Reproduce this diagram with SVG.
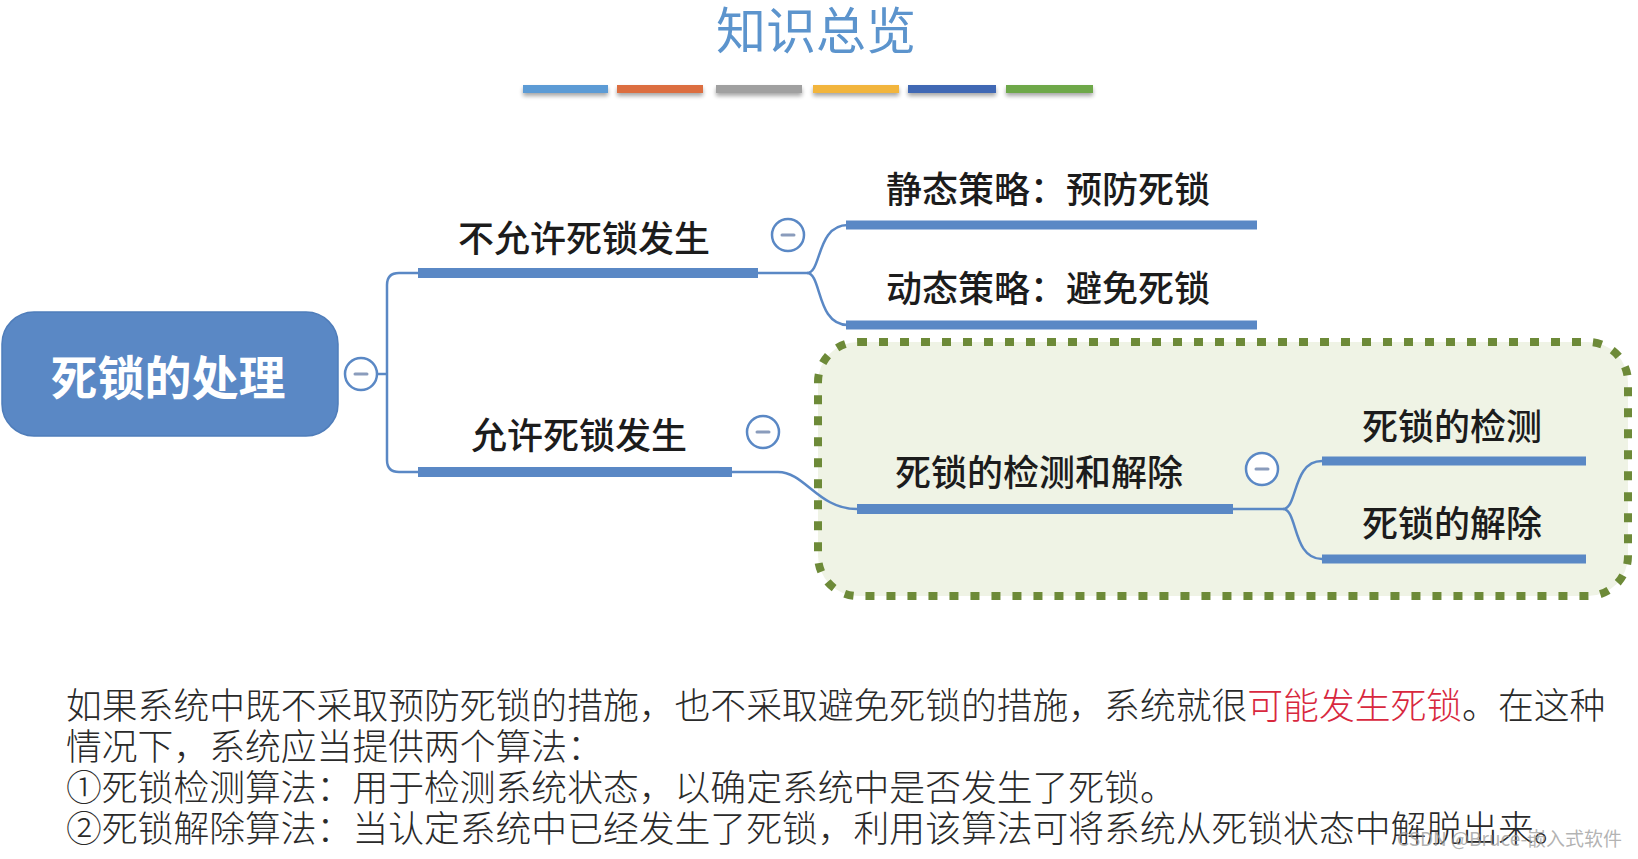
<svg xmlns="http://www.w3.org/2000/svg" width="1638" height="859" viewBox="0 0 1638 859">
  <defs>
    <filter id="shadow" x="-10%" y="-100%" width="120%" height="400%">
      <feGaussianBlur in="SourceAlpha" stdDeviation="2"/>
      <feOffset dy="3" result="b"/>
      <feComponentTransfer><feFuncA type="linear" slope="0.35"/></feComponentTransfer>
      <feMerge><feMergeNode/><feMergeNode in="SourceGraphic"/></feMerge>
    </filter>
  </defs>
  <style>
    .lbl { font-family: "Noto Sans CJK SC", "Noto Sans", sans-serif; font-size: 36px; font-weight: 500; fill: #1c1c1c; }
    .bar { stroke: #5a88c5; stroke-linecap: butt; fill: none; }
    .b1 { stroke-width: 10; }
    .b2 { stroke-width: 9; }
    .conn { stroke: #5a88c5; stroke-width: 2.5; fill: none; }
    .tog circle { fill: #ffffff; stroke: #5a88c5; stroke-width: 2.5; }
    .tog line { stroke: #8a9cbc; stroke-width: 3; stroke-linecap: round; }
    .para { font-family: "Noto Sans CJK SC", "Noto Sans", sans-serif; font-size: 35.8px; font-weight: 300; fill: #2a2a2a; }
  </style>
  <rect width="1638" height="859" fill="#ffffff"/>

  <!-- title -->
  <g id="title">
    <text x="816" y="49" text-anchor="middle" font-family="Noto Sans CJK SC, sans-serif" font-size="50" fill="#5c94cd">知识总览</text>
    <g filter="url(#shadow)">
      <rect x="523" y="85" width="85" height="8" fill="#5b9bd5"/>
      <rect x="617" y="85" width="86" height="8" fill="#dc6e40"/>
      <rect x="716" y="85" width="86" height="8" fill="#a0a0a0"/>
      <rect x="813" y="85" width="86" height="8" fill="#f2b53c"/>
      <rect x="908" y="85" width="88" height="8" fill="#4168b4"/>
      <rect x="1006" y="85" width="87" height="8" fill="#6ea84a"/>
    </g>
  </g>

  <!-- group box -->
  <rect id="group-box" x="818" y="342" width="810" height="254" rx="40" ry="40" fill="#eff3e5" stroke="#6d8a38" stroke-width="8" stroke-dasharray="9 12"/>

  <!-- connectors -->
  <g id="connectors">
    <path class="conn" d="M378,374 H387"/>
    <path class="conn" d="M418,273 H399 Q387,273 387,285 V460 Q387,472 399,472 H418"/>
    <path class="conn" d="M758,273 H807"/>
    <path class="conn" d="M807,273 C822,273 816,225 848,225"/>
    <path class="conn" d="M807,273 C822,273 816,325 848,325"/>
    <path class="conn" d="M732,472 H778 C805,472 818,509 857,509"/>
    <path class="conn" d="M1233,509 H1283"/>
    <path class="conn" d="M1283,509 C1298,509 1292,461 1322,461"/>
    <path class="conn" d="M1283,509 C1298,509 1292,559 1322,559"/>
  </g>

  <!-- root -->
  <g id="root">
    <rect x="2" y="312" width="336" height="124" rx="32" ry="32" fill="#5a88c5" stroke="#4f7dba" stroke-width="1.5"/>
    <text x="168" y="395" text-anchor="middle" font-family="Noto Sans CJK SC, sans-serif" font-size="47" font-weight="bold" fill="#ffffff">死锁的处理</text>
    <g class="tog"><circle cx="361" cy="374" r="16"/><line x1="355" y1="374" x2="367" y2="374"/></g>
  </g>

  <g id="n-not-allow">
    <line class="bar b1" x1="418" y1="273" x2="758" y2="273"/>
    <text class="lbl" x="458" y="252">不允许死锁发生</text>
    <g class="tog"><circle cx="788" cy="235" r="16"/><line x1="782" y1="235" x2="794" y2="235"/></g>
  </g>

  <g id="n-static">
    <line class="bar b2" x1="846" y1="225" x2="1257" y2="225"/>
    <text class="lbl" x="886" y="203">静态策略：预防死锁</text>
  </g>

  <g id="n-dynamic">
    <line class="bar b2" x1="846" y1="325" x2="1257" y2="325"/>
    <text class="lbl" x="886" y="302">动态策略：避免死锁</text>
  </g>

  <g id="n-allow">
    <line class="bar b1" x1="418" y1="472" x2="732" y2="472"/>
    <text class="lbl" x="471" y="449">允许死锁发生</text>
    <g class="tog"><circle cx="763" cy="432" r="16"/><line x1="757" y1="432" x2="769" y2="432"/></g>
  </g>

  <g id="n-detect-recover">
    <line class="bar b1" x1="857" y1="509" x2="1233" y2="509"/>
    <text class="lbl" x="895" y="486">死锁的检测和解除</text>
    <g class="tog"><circle cx="1262" cy="469" r="16"/><line x1="1256" y1="469" x2="1268" y2="469"/></g>
  </g>

  <g id="n-detect">
    <line class="bar b2" x1="1322" y1="461" x2="1586" y2="461"/>
    <text class="lbl" x="1362" y="440">死锁的检测</text>
  </g>

  <g id="n-recover">
    <line class="bar b2" x1="1322" y1="559" x2="1586" y2="559"/>
    <text class="lbl" x="1362" y="537">死锁的解除</text>
  </g>

  <!-- paragraph -->
  <g id="paragraph">
    <text class="para" x="66" y="719">如果系统中既不采取预防死锁的措施，也不采取避免死锁的措施，系统就很<tspan fill="#d8283e">可能发生死锁</tspan>。在这种</text>
    <text class="para" x="66" y="760">情况下，系统应当提供两个算法：</text>
    <text class="para" x="66" y="801">①死锁检测算法：用于检测系统状态，以确定系统中是否发生了死锁。</text>
    <text class="para" x="66" y="842">②死锁解除算法：当认定系统中已经发生了死锁，利用该算法可将系统从死锁状态中解脱出来。</text>
  </g>

  <text id="watermark" x="1622" y="846" text-anchor="end" font-family="Noto Sans CJK SC, sans-serif" font-size="19" fill="#9a9a9a" fill-opacity="0.75">CSDN @Bruce-嵌入式软件</text>
</svg>
